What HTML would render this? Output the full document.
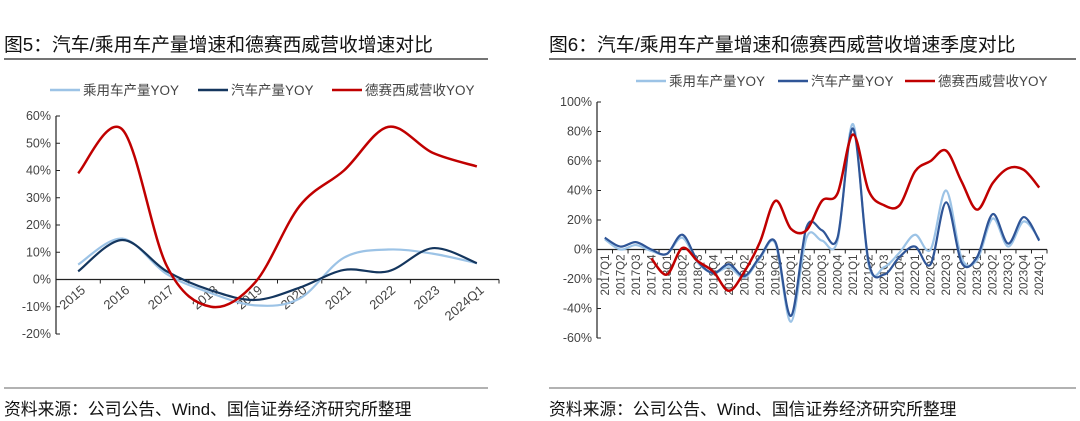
<!DOCTYPE html>
<html><head><meta charset="utf-8"><style>
body{margin:0;background:#fff;width:1080px;height:421px;overflow:hidden;font-family:"Liberation Sans","Noto Sans CJK SC",sans-serif}
svg{display:block}
</style></head><body>
<svg id="s" width="1080" height="421" xmlns="http://www.w3.org/2000/svg">
<g font-family="Liberation Sans, Noto Sans CJK SC, sans-serif">
<text x="4" y="51" font-size="18.8" fill="#111">图5：汽车/乘用车产量增速和德赛西威营收增速对比</text>
<line x1="4" y1="59" x2="488" y2="59" stroke="#222" stroke-width="1.2"/>
<text x="549" y="51" font-size="18.8" fill="#111">图6：汽车/乘用车产量增速和德赛西威营收增速季度对比</text>
<line x1="549" y1="59" x2="1076" y2="59" stroke="#222" stroke-width="1.2"/>
<line x1="4" y1="388" x2="488" y2="388" stroke="#666" stroke-width="1"/>
<line x1="549" y1="388" x2="1076" y2="388" stroke="#666" stroke-width="1"/>
<text x="4" y="415" font-size="16.8" fill="#111">资料来源：公司公告、Wind、国信证券经济研究所整理</text>
<text x="549" y="415" font-size="16.8" fill="#111">资料来源：公司公告、Wind、国信证券经济研究所整理</text>
</g>
<g id="c1"></g><g id="c2"></g>
</svg>
<script>
const cats1=["2015","2016","2017","2018","2019","2020","2021","2022","2023","2024Q1"];
const pv1=[5.5,15,2,-5,-9.5,-7,8,11,9.5,6];
const av1=[3,14.5,3,-4,-7.5,-3,3.5,3,11.5,6];
const dv1=[39,55,5,-10,-1,27,40,56,46.5,41.5];
const ticks1=[60,50,40,30,20,10,0,-10,-20];
const cats2=["2017Q1","2017Q2","2017Q3","2017Q4","2018Q1","2018Q2","2018Q3","2018Q4","2019Q1","2019Q2","2019Q3","2019Q4","2020Q1","2020Q2","2020Q3","2020Q4","2021Q1","2021Q2","2021Q3","2021Q4","2022Q1","2022Q2","2022Q3","2022Q4","2023Q1","2023Q2","2023Q3","2023Q4","2024Q1"];
const pv2=[7,0,3,-1,-3,8,-9,-16,-12,-19,-6,4,-49,8,6,6,85,-10,-12,-2,10,0,40,-6,-7,21,2,19,7];
const av2=[8,2,5,0,-3,10,-8,-16,-10,-18,-5,5,-45,15,13,8,82,-8,-17,-5,2,-10,32,-9,-5,24,4,22,6];
const dv2=[null,null,null,-6,-17,1,-8,-15,-28,-15,5,33,14,13,33,38,78,40,30,30,53,60,67,46,27,45,55,54,42];
const ticks2=[100,80,60,40,20,0,-20,-40,-60];
const NS="http://www.w3.org/2000/svg";
function mk(p,t,a){const e=document.createElementNS(NS,t);for(const k in a)e.setAttribute(k,a[k]);p.appendChild(e);return e;}
function smooth(pts){let d="M"+pts[0][0]+","+pts[0][1];for(let i=0;i<pts.length-1;i++){const p0=pts[i-1]||pts[i],p1=pts[i],p2=pts[i+1],p3=pts[i+2]||p2;const c1x=p1[0]+(p2[0]-p0[0])/6,c1y=p1[1]+(p2[1]-p0[1])/6,c2x=p2[0]-(p3[0]-p1[0])/6,c2y=p2[1]-(p3[1]-p1[1])/6;d+=" C"+c1x+","+c1y+" "+c2x+","+c2y+" "+p2[0]+","+p2[1];}return d;}
function chart(g,o){
 const n=o.cats.length,bw=(o.x1-o.x0)/n;
 const y=v=>o.y0+(o.vmax-v)/(o.vmax-o.vmin)*(o.y1-o.y0);
 const x=i=>o.x0+bw*(i+0.5);
 mk(g,"line",{x1:o.x0,y1:o.y0,x2:o.x0,y2:o.y1,stroke:"#222","stroke-width":1.2});
 o.ticks.forEach(t=>{mk(g,"line",{x1:o.x0,y1:y(t),x2:o.x0+4,y2:y(t),stroke:"#222"});
  const tx=mk(g,"text",{x:o.x0-5,y:y(t)+4,"text-anchor":"end","font-size":12.5,fill:"#444"});tx.textContent=t+"%";
  
  });
 const zy=y(0);
 mk(g,"line",{x1:o.x0,y1:zy,x2:o.x1,y2:zy,stroke:"#222","stroke-width":1.2});
 for(let i=0;i<=n;i++)mk(g,"line",{x1:o.x0+bw*i,y1:zy,x2:o.x0+bw*i,y2:zy+4,stroke:"#222"});
 o.cats.forEach((c,i)=>{let tx;
  if(o.vert){tx=mk(g,"text",{x:0,y:0,"font-size":11.5,fill:"#444","text-anchor":"end",transform:`translate(${x(i)+4},${zy+5}) rotate(-90)`});}
  else{tx=mk(g,"text",{x:0,y:0,"font-size":13,fill:"#444","text-anchor":"end",transform:`translate(${x(i)+8},${zy+12}) rotate(-40)`});}
  tx.textContent=c;
  
  });
 o.series.forEach(s=>{const pts=[];s.v.forEach((v,i)=>{if(v!==null)pts.push([x(i),y(v)]);});
  const p=mk(g,"path",{d:smooth(pts),fill:"none",stroke:s.c,"stroke-width":s.w});
  
  });
 o.series.forEach((s,k)=>{const lx=o.lx[k];
  mk(g,"line",{x1:lx,y1:o.ly,x2:lx+30,y2:o.ly,stroke:s.c,"stroke-width":2.5});
  const t=mk(g,"text",{x:lx+33,y:o.ly+5,"font-size":13.5,fill:"#444"});t.textContent=s.label;
  
  });
}
chart(document.getElementById("c1"),{cats:cats1,x0:56,x1:499,y0:116,y1:334,vmax:60,vmin:-20,ticks:ticks1,vert:false,ly:90,lx:[50,198,332],
 series:[{v:pv1,c:"#9cc3e6",w:2.2,label:"乘用车产量YOY",name:"passenger-car-line"},{v:av1,c:"#14365e",w:2.2,label:"汽车产量YOY",name:"auto-line"},{v:dv1,c:"#c00000",w:2.5,label:"德赛西威营收YOY",name:"desay-line"}]});
chart(document.getElementById("c2"),{cats:cats2,x0:597,x1:1047,y0:102,y1:338,vmax:100,vmin:-60,ticks:ticks2,vert:true,ly:81,lx:[636,778,905],
 series:[{v:pv2,c:"#9cc3e6",w:2.2,label:"乘用车产量YOY",name:"passenger-car-line-q"},{v:av2,c:"#2f5597",w:2.2,label:"汽车产量YOY",name:"auto-line-q"},{v:dv2,c:"#c00000",w:2.5,label:"德赛西威营收YOY",name:"desay-line-q"}]});
</script>
</body></html>
